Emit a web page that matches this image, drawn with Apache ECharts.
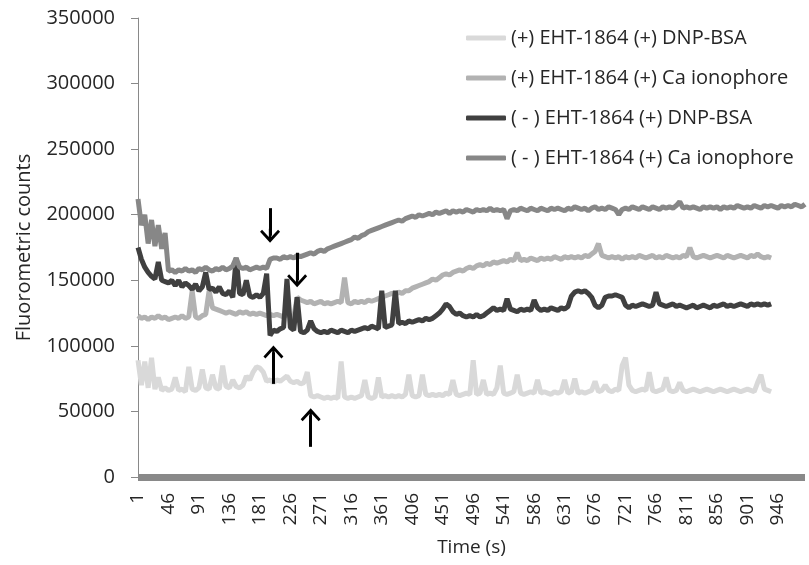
<!DOCTYPE html>
<html>
<head>
<meta charset="utf-8">
<script src="https://cdn.jsdelivr.net/npm/echarts@6/dist/echarts.min.js"></script>
<style>
  html, body { margin: 0; padding: 0; background: #fff; }
  #chart { width: 809px; height: 565px; }
</style>
</head>
<body>
<div id="chart"></div>
<script>
// time points (s), one every 5 s
const times = [
  1, 6, 11, 16, 21, 26, 31, 36, 41, 46,
  51, 56, 61, 66, 71, 76, 81, 86, 91, 96,
  101, 106, 111, 116, 121, 126, 131, 136, 141, 146,
  151, 156, 161, 166, 171, 176, 181, 186, 191, 196,
  201, 206, 211, 216, 221, 226, 231, 236, 241, 246,
  251, 256, 261, 266, 271, 276, 281, 286, 291, 296,
  301, 306, 311, 316, 321, 326, 331, 336, 341, 346,
  351, 356, 361, 366, 371, 376, 381, 386, 391, 396,
  401, 406, 411, 416, 421, 426, 431, 436, 441, 446,
  451, 456, 461, 466, 471, 476, 481, 486, 491, 496,
  501, 506, 511, 516, 521, 526, 531, 536, 541, 546,
  551, 556, 561, 566, 571, 576, 581, 586, 591, 596,
  601, 606, 611, 616, 621, 626, 631, 636, 641, 646,
  651, 656, 661, 666, 671, 676, 681, 686, 691, 696,
  701, 706, 711, 716, 721, 726, 731, 736, 741, 746,
  751, 756, 761, 766, 771, 776, 781, 786, 791, 796,
  801, 806, 811, 816, 821, 826, 831, 836, 841, 846,
  851, 856, 861, 866, 871, 876, 881, 886, 891, 896,
  901, 906, 911, 916, 921, 926, 931, 936, 941, 946,
  951, 956, 961, 966, 971, 976, 981, 986
]

// fluorometric counts, in thousands
const plusEhtDnp = [
  89, 70, 88, 68, 91, 67, 76, 66, 68, 66,
  67, 76, 66, 67, 65, 84, 67, 66, 68, 82,
  68, 67, 78, 68, 67, 85, 69, 68, 74, 69,
  68, 70, 77, 74, 80, 84, 83, 80, 73, 74,
  72, 74, 73, 75, 77, 73, 72, 73, 71, 72,
  80, 62, 61, 62, 61, 60, 61, 60, 61, 60,
  88, 61, 60, 61, 60, 61, 62, 74, 61, 60,
  61, 76, 61, 62, 61, 62, 61, 62, 61, 63,
  78, 62, 61, 62, 78, 63, 62, 63, 62, 63,
  62, 64, 63, 74, 63, 62, 63, 64, 63, 89,
  63, 64, 74, 63, 64, 63, 68, 85, 64, 63,
  64, 65, 78, 64, 63, 64, 65, 64, 74, 64,
  65, 64, 63, 65, 64, 65, 74, 64, 65, 75,
  64, 65, 64, 65, 66, 73, 65, 66, 70, 66,
  65, 67, 66, 85, 91, 70, 66, 65, 66, 67,
  66, 80, 66, 65, 66, 67, 76, 66, 65, 66,
  72, 66, 65, 66, 67, 66, 65, 66, 67, 66,
  65, 66, 67, 66, 65, 66, 67, 66, 65, 66,
  67, 66, 65, 72, 78, 67, 66, 65
]

const plusEhtCa = [
  123, 121, 122, 120, 122, 121, 123, 121, 122, 120,
  121, 122, 121, 123, 121, 122, 142, 122, 121, 123,
  124, 142, 129, 128, 127, 126, 125, 126, 125, 124,
  126, 125, 126, 124, 125, 124, 125, 124, 123, 124,
  123, 124, 123, 122, 124, 123, 122, 137, 135, 134,
  133, 134, 132, 133, 134, 132, 133, 132, 133, 134,
  133, 152, 133, 132, 134, 133, 134, 133, 135, 134,
  135, 136, 137, 138, 139, 140, 139, 141, 140, 142,
  142, 144, 145, 146, 147, 148, 149, 151, 150, 152,
  154, 155, 154, 156, 157, 158, 157, 159, 160, 159,
  161, 162, 161, 163, 162, 164, 163, 164, 165, 164,
  166, 165, 171, 165, 166, 165, 167, 166, 165, 167,
  166, 167, 166, 168, 167, 166, 168, 167, 168, 167,
  168, 167, 169, 168, 170, 172, 178, 169, 168, 167,
  168, 167, 168, 166, 168, 167, 168, 167, 169, 168,
  167, 168, 169, 167, 168, 167, 169, 168, 167, 168,
  167, 169, 168, 175, 168, 167, 168, 169, 168, 167,
  168, 169, 168, 167, 169, 168, 167, 168, 169, 168,
  167, 169, 168, 170, 168, 167, 168, 167
]

const minusEhtDnp = [
  175, 166, 160, 156, 153, 151, 164, 150, 149, 148,
  150, 146, 150, 145, 148, 146, 143, 147, 142, 145,
  156, 143, 144, 141, 145, 140, 139, 142, 137, 167,
  140, 139, 150, 138, 137, 139, 137, 140, 155, 108,
  112, 111, 113, 114, 151, 114, 112, 137, 111, 110,
  112, 119, 113, 111, 110, 111, 110, 112, 111, 110,
  112, 111, 110, 112, 111, 112, 113, 114, 113, 115,
  114, 113, 142, 114, 115, 116, 142, 117, 118, 117,
  119, 118, 119, 120, 119, 121, 120, 121, 123, 125,
  128, 132, 130, 126, 124, 125, 123, 122, 123, 122,
  124, 122, 123, 125, 127, 129, 127, 128, 127, 136,
  128, 127, 126, 128, 127, 128, 127, 135, 129, 127,
  128, 127, 129, 128, 127, 129, 128, 130, 138, 141,
  142, 141, 142, 140, 137, 131, 129, 131, 137, 138,
  138, 139, 138, 137, 131, 129, 131, 130, 131, 132,
  131, 130, 131, 141, 132, 131, 130, 131, 132, 130,
  131, 130, 129, 130, 131, 129, 130, 131, 130, 129,
  131, 130, 131, 132, 130, 131, 130, 131, 132, 131,
  130, 132, 131, 132, 131, 132, 131, 132
]

const minusEhtCa = [
  212, 192, 200, 178, 196, 176, 192, 174, 186, 157,
  158, 156, 158, 157, 159, 157, 158, 156, 159, 158,
  160, 158, 157, 159, 158, 160, 158, 159, 161, 167,
  160, 159, 160, 158, 159, 160, 159, 160, 159, 166,
  167, 167, 166, 168, 167, 168, 167, 169, 168, 169,
  170, 171, 170, 172, 173, 172, 174, 175, 176, 177,
  178, 179, 180, 181, 183, 182, 184, 185, 187, 188,
  189, 190, 191, 192, 193, 194, 195, 196, 195, 197,
  198, 199, 198, 200, 199, 200, 201, 200, 202, 201,
  202, 203, 201, 203, 202, 203, 202, 204, 203, 202,
  204, 203, 204, 203, 205, 203, 204, 203, 204, 197,
  203, 204, 203, 205, 204, 203, 205, 204, 203, 205,
  204, 203, 205, 204, 205, 204, 203, 205, 204, 206,
  205, 204, 205, 203, 205, 206, 204, 205, 204, 206,
  205, 204, 200, 204, 205, 204, 206, 205, 204, 206,
  205, 204, 206, 205, 204, 206, 205, 206, 205, 207,
  210, 205, 206, 205, 206, 205, 204, 206, 205, 206,
  205, 206, 204, 206, 205, 206, 205, 207, 206, 205,
  206, 205, 207, 206, 205, 207, 206, 207, 206, 205,
  207, 206, 207, 206, 208, 207, 206, 208
]

const seriesNames = [
  '(+) EHT-1864 (+) DNP-BSA',
  '(+) EHT-1864 (+) Ca ionophore',
  '( - ) EHT-1864 (+) DNP-BSA',
  '( - ) EHT-1864 (+) Ca ionophore'
]
const seriesColors = ['#d9d9d9', '#b2b2b2', '#404040', '#878787']

// annotation arrows: [time index, tail value, head value]
const arrows = [
  [39, 205, 184],
  [47, 171, 150],
  [40, 71, 95],
  [51, 23, 47]
]

const font = '"Open Sans", "Noto Sans", sans-serif'
const chevron = 'path://M10,0 L20,11 L18,13 L11.2,5.6 L11.2,14 L8.8,14 L8.8,5.6 L2,13 L0,11 Z'

const chart = echarts.init(document.getElementById('chart'))

const allData = [plusEhtDnp, plusEhtCa, minusEhtDnp, minusEhtCa]

const series = allData.map((d, k) => ({
  name: seriesNames[k],
  type: 'line',
  data: d,
  symbol: 'none',
  showSymbol: false,
  lineStyle: { width: 5, color: seriesColors[k] },
  itemStyle: { color: seriesColors[k] },
  emphasis: { disabled: true },
  animation: false
}))

series[3].markLine = {
  silent: true,
  animation: false,
  symbol: ['none', chevron],
  symbolSize: [20, 14],
  label: { show: false },
  lineStyle: { color: '#000', width: 3, type: 'solid' },
  emphasis: { disabled: true },
  data: arrows.map(a => [{ coord: [a[0], a[1]] }, { coord: [a[0], a[2]] }])
}

chart.setOption({
  backgroundColor: '#fff',
  animation: false,
  textStyle: { fontFamily: font },
  grid: { left: 138, right: 4, top: 18, bottom: 88, outerBoundsMode: 'none' },
  legend: {
    orient: 'vertical',
    left: 466,
    top: 28,
    padding: 0,
    itemWidth: 40,
    itemHeight: 5,
    itemGap: 20,
    icon: 'roundRect',
    selectedMode: false,
    data: seriesNames,
    textStyle: { fontFamily: font, fontSize: 20, color: '#262626', lineHeight: 20 }
  },
  xAxis: {
    type: 'category',
    data: times,
    boundaryGap: false,
    offset: 3,
    name: 'Time (s)',
    nameLocation: 'middle',
    nameGap: 58,
    nameTextStyle: { fontFamily: font, fontSize: 19, color: '#262626' },
    axisLine: { show: true, lineStyle: { color: '#898989', width: 7, cap: 'butt' } },
    axisTick: { show: false },
    axisLabel: {
      interval: 8,
      rotate: 90,
      margin: 13,
      fontFamily: font,
      fontSize: 19,
      color: '#262626'
    },
    splitLine: { show: false }
  },
  yAxis: {
    type: 'value',
    min: 0,
    max: 350,
    interval: 50,
    name: 'Fluorometric counts',
    nameLocation: 'middle',
    nameRotate: 90,
    nameGap: 104,
    nameTextStyle: { fontFamily: font, fontSize: 20, color: '#262626' },
    axisLine: { show: true, lineStyle: { color: '#898989', width: 1 } },
    axisTick: { show: true, length: 7, lineStyle: { color: '#898989' } },
    axisLabel: {
      margin: 23,
      fontFamily: font,
      fontSize: 20,
      color: '#262626',
      formatter: v => String(v * 1000)
    },
    splitLine: { show: false }
  },
  series
})

window.addEventListener('resize', () => chart.resize())
</script>
</body>
</html>
